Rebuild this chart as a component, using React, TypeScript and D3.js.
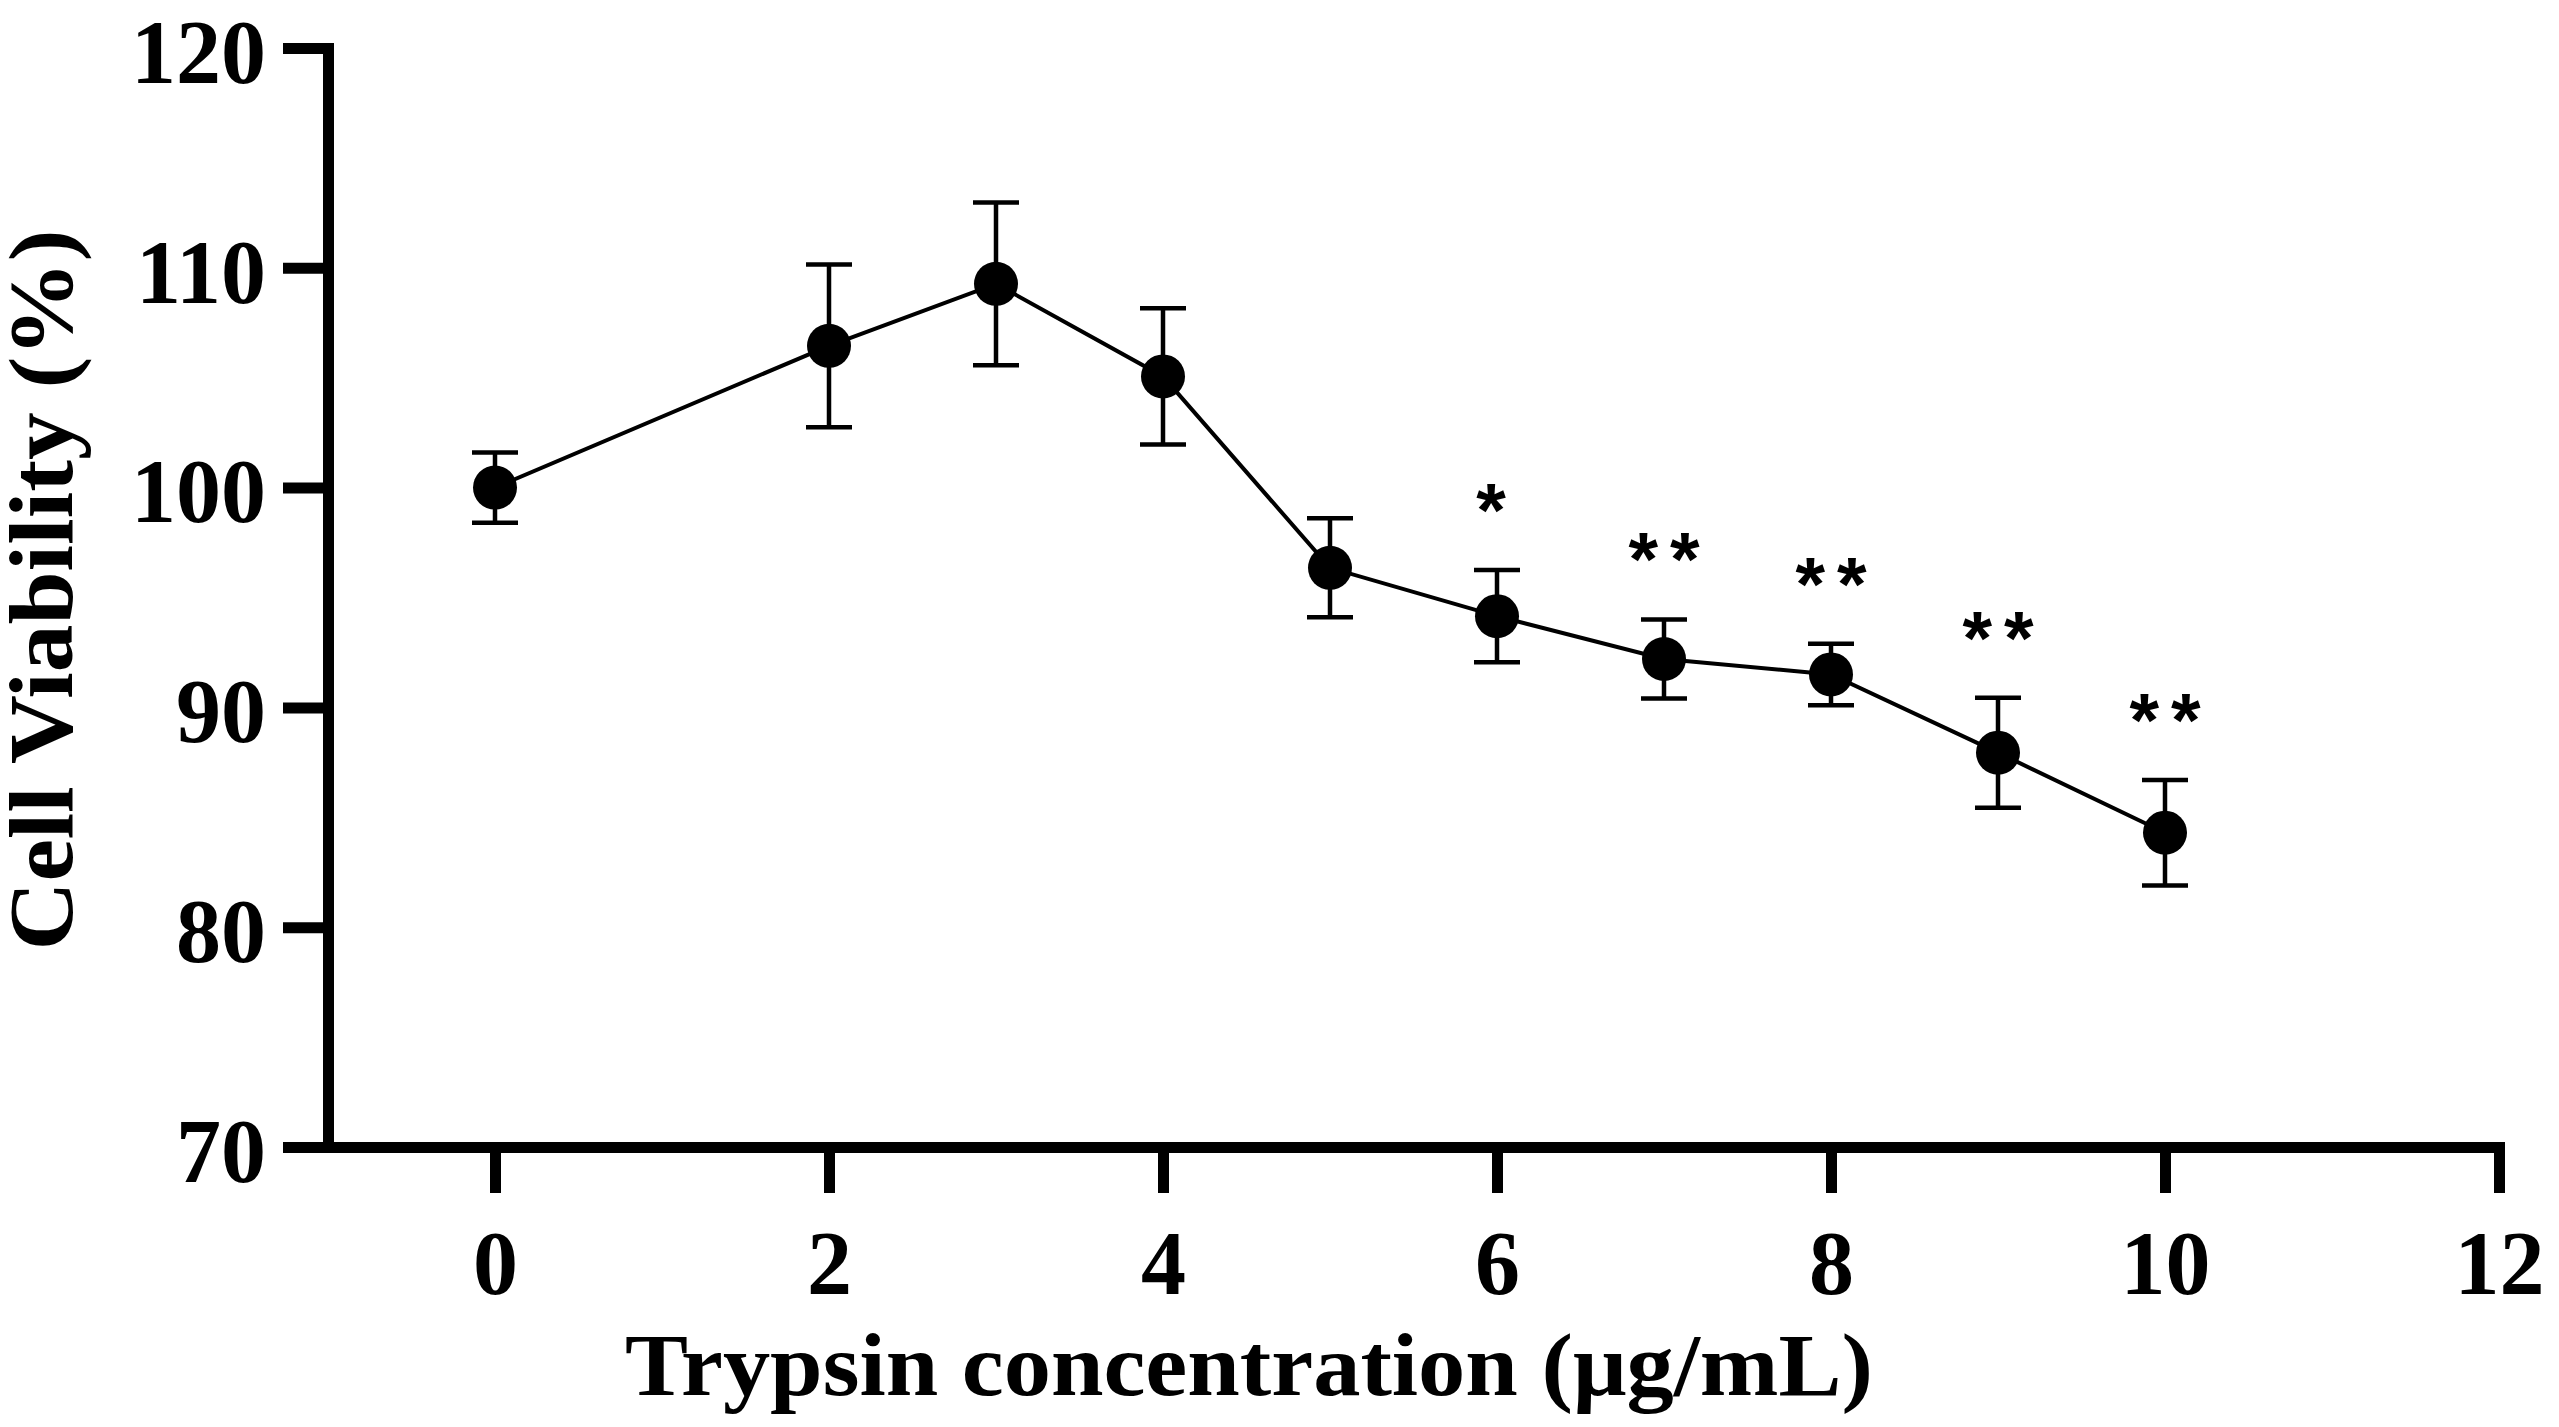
import * as d3 from 'd3';
import { useEffect, useRef } from 'react';

const WIDTH = 2559;
const HEIGHT = 1427;

// trypsin concentration (µg/mL)
const concentrations = [0, 2, 3, 4, 5, 6, 7, 8, 9, 10];
// mean cell viability (%)
const viability = [100.0, 106.45, 109.27, 105.06, 96.35, 94.15, 92.2, 91.5, 87.94, 84.3];
// error (+/-)
const errors = [1.6, 3.7, 3.7, 3.1, 2.25, 2.1, 1.8, 1.4, 2.5, 2.4];
// significance marks
const marks = ['', '', '', '', '', '*', '**', '**', '**', '**'];

const xTicks = [0, 2, 4, 6, 8, 10, 12];
const yTicks = [70, 80, 90, 100, 110, 120];

const xLabel = 'Trypsin concentration (μg/mL)';
const yLabel = 'Cell Viability (%)';

const SERIF = '"Liberation Serif", "Times New Roman", serif';

export default function App() {
  const svgRef = useRef<SVGSVGElement>(null);

  useEffect(() => {
    if (!svgRef.current) return;
    const svg = d3.select(svgRef.current);
    svg.selectAll('*').remove();

    const x = d3.scaleLinear().domain([-1, 12]).range([328, 2499]);
    const y = d3.scaleLinear().domain([70, 120]).range([1147, 48]);

    const data = concentrations.map((c, i) => ({
      c,
      v: viability[i],
      e: errors[i],
      m: marks[i],
    }));

    // y axis
    const yAxis = svg
      .append('g')
      .attr('transform', `translate(${x(-1)},0)`)
      .call(
        d3
          .axisLeft(y)
          .tickValues(yTicks)
          .tickSize(45)
          .tickSizeOuter(0)
          .tickPadding(17)
      );

    // x axis
    const xAxis = svg
      .append('g')
      .attr('transform', `translate(0,${y(70)})`)
      .call(
        d3
          .axisBottom(x)
          .tickValues(xTicks)
          .tickSize(46)
          .tickSizeOuter(0)
          .tickFormat(d3.format('d'))
      );

    [yAxis, xAxis].forEach((ax) => {
      ax.select('.domain')
        .attr('stroke', '#000')
        .attr('stroke-width', 11)
        .attr('stroke-linecap', 'square');
      ax.selectAll('.tick line').attr('stroke', '#000').attr('stroke-width', 11);
      ax.selectAll('.tick text')
        .attr('fill', '#000')
        .style('font-family', SERIF)
        .style('font-weight', 'bold')
        .style('font-size', '90px');
    });
    yAxis.selectAll('.tick text').attr('dy', '0.38em');
    xAxis.selectAll('.tick text').attr('y', 147).attr('dy', 0);

    // connecting line
    const line = d3
      .line<(typeof data)[number]>()
      .x((d) => x(d.c))
      .y((d) => y(d.v));

    svg
      .append('path')
      .datum(data)
      .attr('d', line)
      .attr('fill', 'none')
      .attr('stroke', '#000')
      .attr('stroke-width', 4);

    // error bars
    const bars = svg.append('g').attr('stroke', '#000').attr('stroke-width', 4.5);
    const capHalf = 23;
    data.forEach((d) => {
      bars
        .append('line')
        .attr('x1', x(d.c))
        .attr('x2', x(d.c))
        .attr('y1', y(d.v + d.e))
        .attr('y2', y(d.v - d.e));
      [d.v + d.e, d.v - d.e].forEach((v) => {
        bars
          .append('line')
          .attr('x1', x(d.c) - capHalf)
          .attr('x2', x(d.c) + capHalf)
          .attr('y1', y(v))
          .attr('y2', y(v));
      });
    });

    // markers
    svg
      .append('g')
      .selectAll('circle')
      .data(data)
      .join('circle')
      .attr('cx', (d) => x(d.c))
      .attr('cy', (d) => y(d.v))
      .attr('r', 22)
      .attr('fill', '#000');

    // significance stars
    svg
      .append('g')
      .selectAll('text')
      .data(data.filter((d) => d.m))
      .join('text')
      .attr('x', (d) => x(d.c))
      .attr('y', (d) => y(d.v + d.e) - 68 + 34)
      .attr('text-anchor', 'middle')
      .style('font-family', '"Liberation Sans", Arial, sans-serif')
      .style('font-weight', 'bold')
      .style('font-size', '76px')
      .style('letter-spacing', '12px')
      .attr('dx', (d) => (d.m.length > 1 ? 6 : 0))
      .text((d) => d.m);

    // axis titles
    svg
      .append('text')
      .attr('x', 1249)
      .attr('y', 1395)
      .attr('text-anchor', 'middle')
      .attr('textLength', 1248)
      .attr('lengthAdjust', 'spacingAndGlyphs')
      .style('font-family', SERIF)
      .style('font-weight', 'bold')
      .style('font-size', '88px')
      .text(xLabel);

    svg
      .append('text')
      .attr('transform', 'translate(72,590) rotate(-90)')
      .attr('text-anchor', 'middle')
      .attr('textLength', 721)
      .attr('lengthAdjust', 'spacingAndGlyphs')
      .style('font-family', SERIF)
      .style('font-weight', 'bold')
      .style('font-size', '92px')
      .text(yLabel);
  }, []);

  return (
    <div style={{ position: 'fixed', left: 0, top: 0, width: WIDTH, height: HEIGHT, background: '#fff' }}>
      <svg ref={svgRef} width={WIDTH} height={HEIGHT} viewBox={`0 0 ${WIDTH} ${HEIGHT}`} />
    </div>
  );
}
